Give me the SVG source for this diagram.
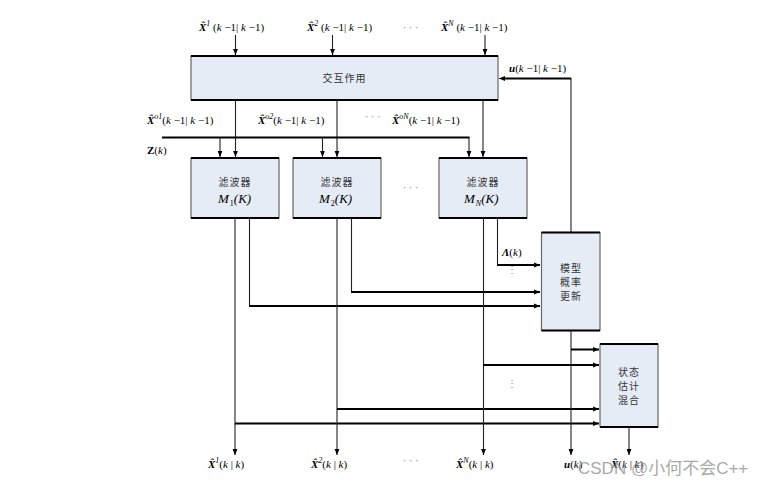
<svg xmlns="http://www.w3.org/2000/svg" width="782" height="486" viewBox="0 0 782 486">
<style>
.box{fill:#E6ECF6;stroke:#666;stroke-width:1.2}
.edge{stroke:#000;stroke-width:2.2}
.v{fill:none;stroke:#222;stroke-width:1.1}
.h{fill:none;stroke:#000;stroke-width:2}
.lbl{font-family:"Liberation Serif",serif;font-size:11px;fill:#000}
.i{font-style:italic}
.b{font-weight:bold;font-style:italic}
.up{font-size:8px}
.ml{font-family:"Liberation Serif",serif;font-size:13px;font-style:italic;fill:#000}
.cn{font-family:"Noto Sans CJK SC","Noto Sans",sans-serif;font-size:10px;fill:#333;text-anchor:middle;letter-spacing:1px}
.dots{font-family:"Liberation Sans",sans-serif;font-size:10px;fill:#888}
.wm{font-family:"Liberation Sans","Noto Sans CJK SC",sans-serif;font-size:17px;fill:#9a9a9a;opacity:0.85}
</style>
<defs>
<marker id="ar" markerWidth="6" markerHeight="6" refX="6" refY="3" orient="auto" markerUnits="userSpaceOnUse">
<path d="M0,0.6 L6,3 L0,5.4 z" fill="#000"/>
</marker>
</defs>

<g id="connectors">
<line class="v" x1="235.5" y1="35" x2="235.5" y2="55" marker-end="url(#ar)"/>
<line class="v" x1="332.5" y1="35" x2="332.5" y2="55" marker-end="url(#ar)"/>
<line class="v" x1="485" y1="35" x2="485" y2="55" marker-end="url(#ar)"/>
<polyline class="v" points="571,232 571,78.5 499,78.5" marker-end="url(#ar)"/>
<line class="h" x1="571" y1="78.5" x2="505" y2="78.5"/>
<line class="v" x1="235.5" y1="100" x2="235.5" y2="157" marker-end="url(#ar)"/>
<line class="v" x1="337" y1="100" x2="337" y2="157" marker-end="url(#ar)"/>
<line class="v" x1="483" y1="100" x2="483" y2="157" marker-end="url(#ar)"/>
<line class="h" x1="162" y1="137.5" x2="469.5" y2="137.5"/>
<line class="v" x1="220" y1="137.5" x2="220" y2="157" marker-end="url(#ar)"/>
<line class="v" x1="322.5" y1="137.5" x2="322.5" y2="157" marker-end="url(#ar)"/>
<line class="v" x1="469" y1="137.5" x2="469" y2="157" marker-end="url(#ar)"/>
<line class="v" x1="235" y1="218" x2="235" y2="455" marker-end="url(#ar)"/>
<polyline class="v" points="249.5,218 249.5,306"/>
<line class="h" x1="249" y1="306" x2="540" y2="306" marker-end="url(#ar)"/>
<line class="h" x1="235" y1="423.5" x2="599" y2="423.5" marker-end="url(#ar)"/>
<line class="v" x1="337" y1="218" x2="337" y2="455" marker-end="url(#ar)"/>
<polyline class="v" points="351.5,218 351.5,292"/>
<line class="h" x1="351" y1="292" x2="540" y2="292" marker-end="url(#ar)"/>
<line class="h" x1="337" y1="409" x2="599" y2="409" marker-end="url(#ar)"/>
<line class="v" x1="483.5" y1="218" x2="483.5" y2="455" marker-end="url(#ar)"/>
<polyline class="v" points="497.5,218 497.5,265"/>
<line class="h" x1="497" y1="265" x2="540" y2="265" marker-end="url(#ar)"/>
<line class="h" x1="483" y1="365" x2="599" y2="365" marker-end="url(#ar)"/>
<line class="v" x1="571" y1="331" x2="571" y2="455" stroke="#555" marker-end="url(#ar)"/>
<line class="h" x1="571" y1="349.5" x2="599" y2="349.5" marker-end="url(#ar)"/>
<line class="v" x1="629" y1="427" x2="629" y2="455" marker-end="url(#ar)"/>
</g>

<g id="interaction">
<rect class="box" x="191" y="56" width="307" height="44"/>
<line class="edge" x1="191" y1="56" x2="498" y2="56"/>
<line class="edge" x1="191" y1="100" x2="498" y2="100"/>
<text class="cn" x="344.5" y="82">交互作用</text>
</g>

<g id="filter1">
<rect class="box" x="191" y="158" width="88" height="60"/>
<line class="edge" x1="191" y1="158" x2="279" y2="158"/>
<line class="edge" x1="191" y1="218" x2="279" y2="218"/>
<text class="cn" x="235" y="186">滤波器</text>
<text class="ml" x="218" y="203">M<tspan font-size="8" font-style="normal" dx="1" dy="3">1</tspan><tspan dy="-3">(K)</tspan></text>
</g>
<g id="filter2">
<rect class="box" x="293" y="158" width="88" height="60"/>
<line class="edge" x1="293" y1="158" x2="381" y2="158"/>
<line class="edge" x1="293" y1="218" x2="381" y2="218"/>
<text class="cn" x="337" y="186">滤波器</text>
<text class="ml" x="319" y="203">M<tspan font-size="8" font-style="normal" dx="1" dy="3">2</tspan><tspan dy="-3">(K)</tspan></text>
</g>
<g id="filterN">
<rect class="box" x="439" y="158" width="88" height="60"/>
<line class="edge" x1="439" y1="158" x2="527" y2="158"/>
<line class="edge" x1="439" y1="218" x2="527" y2="218"/>
<text class="cn" x="483" y="186">滤波器</text>
<text class="ml" x="464" y="203">M<tspan font-size="8" dx="1" dy="3">N</tspan><tspan dy="-3">(K)</tspan></text>
</g>

<g id="model-prob">
<rect class="box" x="541.5" y="232.5" width="58.5" height="98"/>
<line class="edge" x1="541.5" y1="232.5" x2="600" y2="232.5"/>
<line class="edge" x1="541.5" y1="330.5" x2="600" y2="330.5"/>
<text class="cn" x="571" y="272">模型</text>
<text class="cn" x="571" y="286">概率</text>
<text class="cn" x="571" y="300">更新</text>
</g>

<g id="state-mix">
<rect class="box" x="600" y="344" width="58" height="83"/>
<line class="edge" x1="600" y1="344" x2="658" y2="344"/>
<line class="edge" x1="600" y1="427" x2="658" y2="427"/>
<text class="cn" x="629" y="376">状态</text>
<text class="cn" x="629" y="390">估计</text>
<text class="cn" x="629" y="404">混合</text>
</g>

<g id="labels">
<text class="lbl" x="199" y="31"><tspan class="b">X̂</tspan><tspan class="up i" dy="-5">1</tspan><tspan dy="5"> (<tspan class="i">k</tspan> −1| <tspan class="i">k</tspan> −1)</tspan></text>
<text class="lbl" x="307" y="31"><tspan class="b">X̂</tspan><tspan class="up i" dy="-5">2</tspan><tspan dy="5"> (<tspan class="i">k</tspan> −1| <tspan class="i">k</tspan> −1)</tspan></text>
<text class="dots" x="403" y="31">· · ·</text>
<text class="lbl" x="441" y="31"><tspan class="b">X̂</tspan><tspan class="up i" dy="-5">N</tspan><tspan dy="5"> (<tspan class="i">k</tspan> −1| <tspan class="i">k</tspan> −1)</tspan></text>
<text class="lbl" x="509" y="72"><tspan class="b">u</tspan>(<tspan class="i">k</tspan> −1| <tspan class="i">k</tspan> −1)</text>
<text class="lbl" x="147" y="124"><tspan class="b">X̂</tspan><tspan class="up i" dy="-5">o1</tspan><tspan dy="5">(<tspan class="i">k</tspan> −1| <tspan class="i">k</tspan> −1)</tspan></text>
<text class="lbl" x="258" y="124"><tspan class="b">X̂</tspan><tspan class="up i" dy="-5">o2</tspan><tspan dy="5">(<tspan class="i">k</tspan> −1| <tspan class="i">k</tspan> −1)</tspan></text>
<text class="dots" x="365" y="120">· · ·</text>
<text class="lbl" x="392" y="124"><tspan class="b">X̂</tspan><tspan class="up i" dy="-5">oN</tspan><tspan dy="5">(<tspan class="i">k</tspan> −1| <tspan class="i">k</tspan> −1)</tspan></text>
<text class="lbl" x="147" y="154"><tspan font-weight="bold">Z</tspan>(<tspan class="i">k</tspan>)</text>
<text class="dots" x="403" y="191">· · ·</text>
<text class="lbl" x="502" y="256"><tspan class="b">Λ</tspan>(<tspan class="i">k</tspan>)</text>
<text class="dots" x="507" y="273">⋮</text>
<text class="dots" x="507" y="387">⋮</text>
<text class="lbl" x="208" y="468"><tspan class="b">X̂</tspan><tspan class="up i" dy="-5">1</tspan><tspan dy="5">(<tspan class="i">k</tspan> | <tspan class="i">k</tspan>)</tspan></text>
<text class="lbl" x="311" y="468"><tspan class="b">X̂</tspan><tspan class="up i" dy="-5">2</tspan><tspan dy="5">(<tspan class="i">k</tspan> | <tspan class="i">k</tspan>)</tspan></text>
<text class="dots" x="403" y="464">· · ·</text>
<text class="lbl" x="456" y="468"><tspan class="b">X̂</tspan><tspan class="up i" dy="-5">N</tspan><tspan dy="5">(<tspan class="i">k</tspan> | <tspan class="i">k</tspan>)</tspan></text>
<text class="lbl" x="564" y="468"><tspan class="b">u</tspan>(<tspan class="i">k</tspan>)</text>
<text class="lbl" x="611" y="468"><tspan class="b">X̂</tspan>(<tspan class="i">k</tspan> | <tspan class="i">k</tspan>)</text>
<text class="wm" x="578" y="474">CSDN @小何不会C++</text>
</g>
</svg>
